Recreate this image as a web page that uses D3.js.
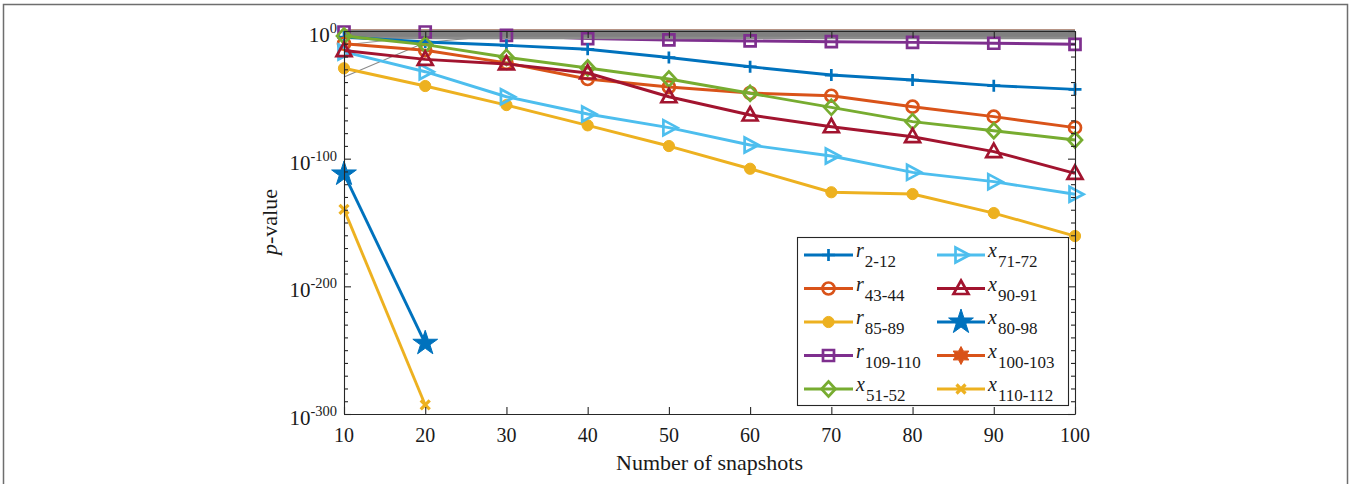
<!DOCTYPE html>
<html><head><meta charset="utf-8">
<script src="https://cdn.jsdelivr.net/npm/d3@7"></script>
<style>body{margin:0;background:#fff}svg{display:block}</style>
</head><body>
<svg id="c" width="1351" height="484"></svg>
<script>
// ---------- data (values are log10 of the p-value) ----------
const snapshots = [10, 20, 30, 40, 50, 60, 70, 80, 90, 100];
const yTickExps = [0, -100, -200, -300];
const xTickLabels = ["10","20","30","40","50","60","70","80","90","100"];

const r2_12    = [-4.7, -8.6, -11.2, -14.3, -20.8, -28, -34.5, -38.4, -42.8, -45.7];
const r43_44   = [-10, -15.1, -25, -37.6, -43.9, -48.6, -50.7, -59.3, -67.1, -75.7];
const r85_89   = [-29.2, -43.1, -58, -73.9, -90.1, -107.9, -126.3, -127.7, -142.6, -160.6];
const r109_110 = [-0.8, -0.8, -3.4, -6, -7, -7.8, -8.4, -8.9, -9.6, -10.4];
const x51_52   = [-3.9, -10.7, -20.6, -29, -37.6, -48.8, -59.8, -71, -78.1, -85.4];
const x71_72   = [-16.4, -31.9, -51.5, -65, -75.7, -89.3, -97.9, -110.7, -118, -127.9];
const x90_91   = [-15.3, -22.2, -25.8, -32.9, -51.5, -65.8, -75, -82.8, -94.5, -111.5];
const x80_98   = [-112, -244.6];
const x100_103 = [0, 0, 0, 0, 0, 0, 0, 0, 0, 0];
const x110_112 = [-139.7, -292.9];

// other (grey) branches near p = 1
const greyA = [0, 0, 0, 0, 0, 0, 0, 0, 0, 0];
const greyB = [-2, -2, -2, -2, -2, -2, -2, -2, -2, -2];
const greyC = [-4, -4, -4, -4, -4, -4, -4, -4, -4, -4];
const greyD = [-5.5, -5.5, -5.5, -5.5, -5.5, -5.5, -5.5, -5.5, -5.5, -5.5];
const greyThin1 = [-36, -9, -3, -1, -1, -1, -1, -1, -1, -1];
const greyThin2 = [-11, -4, -2, -1, -3, -2, -3, -2, -3, -3];

const series = [
  {letter:"r", sub:"2-12",    values:r2_12,    color:"#0072BD", marker:"plus"},
  {letter:"r", sub:"43-44",   values:r43_44,   color:"#D95319", marker:"circle"},
  {letter:"r", sub:"85-89",   values:r85_89,   color:"#EDB120", marker:"dot"},
  {letter:"r", sub:"109-110", values:r109_110, color:"#7E2F8E", marker:"square"},
  {letter:"x", sub:"51-52",   values:x51_52,   color:"#77AC30", marker:"diamond"},
  {letter:"x", sub:"71-72",   values:x71_72,   color:"#4DBEEE", marker:"tri-right"},
  {letter:"x", sub:"90-91",   values:x90_91,   color:"#A2142F", marker:"tri-up"},
  {letter:"x", sub:"80-98",   values:x80_98,   color:"#0072BD", marker:"pentagram"},
  {letter:"x", sub:"100-103", values:x100_103, color:"#D95319", marker:"hexagram"},
  {letter:"x", sub:"110-112", values:x110_112, color:"#EDB120", marker:"xcross"}
];
const greys = [
  {values:greyThin1, w:1.1, color:"#8a8a8a"},
  {values:greyThin2, w:1.1, color:"#9a9a9a"},
  {values:greyA, w:3, color:"#808080"},
  {values:greyB, w:3, color:"#808080"},
  {values:greyC, w:3, color:"#808080"},
  {values:greyD, w:2.5, color:"#8c8c8c"}
];

// ---------- layout ----------
const svg = d3.select("#c");
const X0 = 344, X1 = 1075, Y0 = 31, Y1 = 414;
const x = d3.scaleLinear().domain([10, 100]).range([X0, X1]);
const y = d3.scaleLinear().domain([0, -300]).range([Y0, Y1]);
const AX = "#262626";
const SERIF = "Liberation Serif, Times New Roman, serif";
const LW = 2.9;

// outer frame
svg.append("path").attr("d", "M3.5,484V4.5H1347.5V484")
  .attr("fill", "none").attr("stroke", "#6e6e6e").attr("stroke-width", 1.5);

// markers
function markerPath(type) {
  switch (type) {
    case "plus": return "M-6.5,0H6.5M0,-6V6";
    case "xcross": return "M-4.5,-4.5L4.5,4.5M-4.5,4.5L4.5,-4.5";
    case "circle": return d3.symbol(d3.symbolCircle, Math.PI * 6 * 6)();
    case "dot": return d3.symbol(d3.symbolCircle, Math.PI * 5.6 * 5.6)();
    case "square": return "M-5.5,-5.5H5.5V5.5H-5.5Z";
    case "diamond": return "M0,-7.5L7,0L0,7.5L-7,0Z";
    case "tri-up": return "M0,-8L7.5,5.5L-7.5,5.5Z";
    case "tri-right": return "M8.5,0L-5.5,7.5L-5.5,-7.5Z";
    case "pentagram": return d3.symbol(d3.symbolStar, 190)();
    case "hexagram": {
      const pts = [];
      for (let i = 0; i < 12; i++) {
        const r = i % 2 === 0 ? 9 : 5;
        const a = -Math.PI / 2 + i * Math.PI / 6;
        pts.push([r * Math.cos(a), r * Math.sin(a)]);
      }
      return "M" + pts.map(p => p.join(",")).join("L") + "Z";
    }
  }
}
function markerStyle(sel, s) {
  const filled = ["dot", "pentagram", "hexagram"].includes(s.marker);
  sel.attr("d", markerPath(s.marker))
    .attr("fill", filled ? s.color : "none")
    .attr("stroke", s.color)
    .attr("stroke-width", s.marker === "xcross" ? 3.2 : (filled ? 1 : 2.7))
    .attr("stroke-linejoin", "miter");
}

const line = d3.line().x((d, i) => x(snapshots[i])).y(d => y(d));
const plot = svg.append("g");

function drawSeries(s, withLine, withMarkers) {
  const g = plot.append("g");
  if (withLine) g.append("path").attr("d", line(s.values)).attr("fill", "none")
    .attr("stroke", s.color).attr("stroke-width", LW).attr("stroke-linejoin", "round");
  if (withMarkers) g.selectAll("path.m").data(s.values).join("path").attr("class", "m")
    .attr("transform", (d, i) => `translate(${x(snapshots[i])},${y(d)})`)
    .call(markerStyle, s);
}

// hidden series (covered by the grey band) and purple line under the band
drawSeries(series[8], true, false);
drawSeries(series[3], true, false);
greys.forEach(gs => plot.append("path").attr("d", line(gs.values)).attr("fill", "none")
  .attr("stroke", gs.color).attr("stroke-width", gs.w));
drawSeries(series[3], false, true);
[0, 1, 2, 4, 5, 6, 7, 9].forEach(i => drawSeries(series[i], true, true));

// ---------- axes ----------
const minor = d3.range(-10, -300, -10).filter(v => v % 100 !== 0);
function styleAxis(g) {
  g.selectAll("path,line").attr("stroke", AX).attr("stroke-width", 1.1);
  g.selectAll("text").remove();
}
svg.append("g").attr("transform", `translate(0,${Y1})`)
  .call(d3.axisBottom(x).tickValues(snapshots).tickSizeInner(-7).tickSizeOuter(0)).call(styleAxis);
svg.append("g").attr("transform", `translate(0,${Y0})`)
  .call(d3.axisTop(x).tickValues(snapshots).tickSizeInner(-7).tickSizeOuter(0)).call(styleAxis);
svg.append("g").attr("transform", `translate(${X0},0)`)
  .call(d3.axisLeft(y).tickValues(yTickExps).tickSizeInner(-7).tickSizeOuter(0)).call(styleAxis);
svg.append("g").attr("transform", `translate(${X1},0)`)
  .call(d3.axisRight(y).tickValues(yTickExps).tickSizeInner(-7).tickSizeOuter(0)).call(styleAxis);
svg.append("g").attr("transform", `translate(${X0},0)`)
  .call(d3.axisLeft(y).tickValues(minor).tickSizeInner(-4).tickSizeOuter(0)).call(styleAxis)
  .select(".domain").remove();
svg.append("g").attr("transform", `translate(${X1},0)`)
  .call(d3.axisRight(y).tickValues(minor).tickSizeInner(-4).tickSizeOuter(0)).call(styleAxis)
  .select(".domain").remove();

// tick labels
snapshots.forEach((v, i) => {
  svg.append("text").attr("x", x(v)).attr("y", 442)
    .attr("text-anchor", "middle").attr("font-family", SERIF).attr("font-size", 20)
    .attr("fill", "#1a1a1a").text(xTickLabels[i]);
});
yTickExps.forEach(e => {
  const t = svg.append("text").attr("x", 337).attr("y", y(e) + 11)
    .attr("text-anchor", "end").attr("font-family", SERIF).attr("fill", "#1a1a1a");
  t.append("tspan").attr("font-size", 21).text("10");
  t.append("tspan").attr("font-size", 14.5).attr("dy", -9).text(String(e));
});

// axis titles
svg.append("text").attr("x", (X0 + X1) / 2).attr("y", 470)
  .attr("text-anchor", "middle").attr("font-family", SERIF).attr("font-size", 22)
  .attr("fill", "#1a1a1a").text("Number of snapshots");
const yl = svg.append("text").attr("transform", "translate(277,222) rotate(-90)")
  .attr("text-anchor", "middle").attr("font-family", SERIF).attr("font-size", 22).attr("fill", "#1a1a1a");
yl.append("tspan").attr("font-style", "italic").text("p");
yl.append("tspan").text("-value");

// ---------- legend ----------
const lg = svg.append("g");
lg.append("rect").attr("x", 797.5).attr("y", 237.5).attr("width", 271).attr("height", 168)
  .attr("fill", "#fff").attr("stroke", AX).attr("stroke-width", 1.1);
const cols = [{l0: 804, l1: 853, tx: 856}, {l0: 937, l1: 985, tx: 988}];
series.forEach((s, i) => {
  const c = cols[Math.floor(i / 5)];
  const cy = 255 + (i % 5) * 33.5;
  lg.append("line").attr("x1", c.l0).attr("x2", c.l1).attr("y1", cy).attr("y2", cy)
    .attr("stroke", s.color).attr("stroke-width", LW);
  lg.append("path").attr("transform", `translate(${(c.l0 + c.l1) / 2},${cy})`).call(markerStyle, s);
  const t = lg.append("text").attr("x", c.tx).attr("y", cy + 2)
    .attr("font-family", SERIF).attr("fill", "#1a1a1a");
  t.append("tspan").attr("font-style", "italic").attr("font-size", 20).text(s.letter);
  t.append("tspan").attr("font-size", 17).attr("dy", 10).attr("dx", 1).text(s.sub);
});
</script>
</body></html>
